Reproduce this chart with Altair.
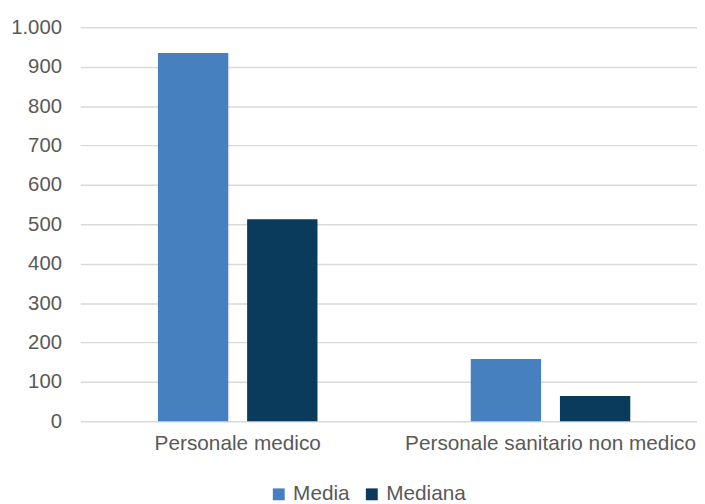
import altair as alt
import pandas as pd

categories = ["Personale medico", "Personale sanitario non medico"]
series = ["Media", "Mediana"]
media = [935, 158]
mediana = [513, 64]

rows = []
for c, a, b in zip(categories, media, mediana):
    rows.append({"categoria": c, "serie": "Media", "valore": a})
    rows.append({"categoria": c, "serie": "Mediana", "valore": b})
df = pd.DataFrame(rows)

FONT = "Liberation Sans"
TXT = "#595959"

chart = alt.Chart(df).mark_bar().encode(
    x=alt.X(
        "categoria:N",
        sort=categories,
        title=None,
        scale=alt.Scale(paddingInner=0.49, paddingOuter=0.2308, align=0.538),
        axis=alt.Axis(labelAngle=0, ticks=False, domain=False, labelPadding=11,
                      labelFontSize=21, labelColor=TXT, labelFont=FONT, grid=False,
                      labelLimit=0),
    ),
    xOffset=alt.XOffset("serie:N", sort=series,
                        scale=alt.Scale(paddingInner=0.211, paddingOuter=0)),
    y=alt.Y(
        "valore:Q",
        title=None,
        scale=alt.Scale(domain=[0, 1000], nice=False),
        axis=alt.Axis(values=list(range(0, 1001, 100)), ticks=False, domain=False,
                      labelPadding=19, labelFontSize=20.5, labelColor=TXT, labelFont=FONT,
                      gridColor="#D9D9D9", gridWidth=1.5,
                      labelExpr="replace(format(datum.value, ','), ',', '.')"),
    ),
    color=alt.Color(
        "serie:N",
        sort=series,
        scale=alt.Scale(domain=series, range=["#4680BF", "#0A3A5C"]),
        legend=alt.Legend(title=None, orient="none", direction="horizontal",
                          legendX=190, legendY=461, symbolType="square", symbolSize=144,
                          labelFontSize=21, labelColor=TXT, labelFont=FONT,
                          columnPadding=11, labelOffset=4, symbolStrokeWidth=0),
    ),
).properties(
    width=623,
    height=398,
    autosize=alt.AutoSizeParams(type="none"),
    padding={"left": 73, "top": 17, "right": 0, "bottom": 81},
).configure_view(stroke=None)

chart.save("out.html", embed_options={"renderer": "svg", "actions": False})
